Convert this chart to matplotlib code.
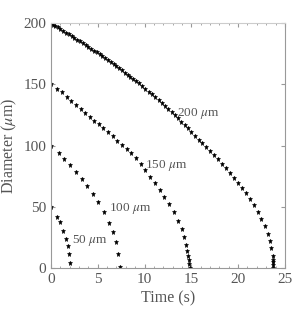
import matplotlib
matplotlib.use("Agg")
import matplotlib.pyplot as plt
from matplotlib.ticker import MultipleLocator

# droplet diameter (um) vs time (s)
t200 = [0, 0.2, 0.45, 0.7, 1.0, 1.3, 1.6, 1.9, 2.2, 2.5, 2.8, 3.1, 3.4, 3.7,
        4.0, 4.3, 4.6, 4.9, 5.2, 5.5, 5.8, 6.1, 6.4, 6.7, 7.0, 7.3, 7.6, 7.9,
        8.2, 8.5, 8.8, 9.1, 9.4, 9.75, 10.1, 10.45, 10.8, 11.15, 11.5, 11.85,
        12.2, 12.55, 12.9, 13.25, 13.6, 13.95, 14.3, 14.65, 15.0, 15.4, 15.8,
        16.19, 16.62, 17.04, 17.47, 17.85, 18.28, 18.71, 19.14, 19.53, 19.96,
        20.38, 20.81, 21.24, 21.66, 22.09, 22.49, 22.84, 23.16, 23.37, 23.55,
        23.69, 23.72, 23.72, 23.72, 23.77]
d200 = [200, 198.8, 197.6, 196.4, 195.0, 193.6, 192.2, 190.8, 189.4, 188.0,
        186.5, 185.0, 183.5, 182.0, 180.5, 179.0, 177.5, 176.0, 174.4, 172.8,
        171.2, 169.6, 168.0, 166.4, 164.7, 163.0, 161.3, 159.6, 157.9, 156.1,
        154.3, 152.5, 150.7, 148.5, 146.3, 144.1, 141.8, 139.5, 137.1, 134.7,
        132.3, 129.8, 127.3, 124.7, 122.1, 119.4, 116.7, 113.9, 111.1, 107.9,
        104.9, 102.0, 98.8, 95.8, 92.5, 89.0, 85.1, 81.6, 77.6, 73.7, 69.6,
        65.5, 61.2, 56.3, 51.1, 46.0, 40.0, 34.0, 27.8, 21.7, 16.0, 9.5, 6.8,
        4.6, 2.4, 0.2]

t150 = [0, 0.6, 1.15, 1.68, 2.17, 2.67, 3.17, 3.66, 4.13, 4.62, 5.12, 5.58,
        6.08, 6.58, 7.08, 7.58, 8.08, 8.57, 9.07, 9.57, 10.07, 10.57, 11.1,
        11.6, 12.09, 12.59, 13.1, 13.55, 13.98, 14.27, 14.48, 14.59, 14.65,
        14.73, 14.76, 14.83]
d150 = [150, 146.5, 143.3, 140.0, 136.6, 133.3, 130.1, 126.8, 123.6, 120.4,
        117.2, 114.0, 110.8, 107.4, 104.0, 100.6, 97.2, 93.6, 89.8, 85.2, 80.0,
        74.5, 69.4, 63.7, 58.0, 52.2, 45.4, 38.6, 31.8, 25.0, 18.4, 13.6, 10.0,
        6.8, 3.3, 0.2]

t100 = [0, 0.82, 1.44, 2.05, 2.67, 3.27, 3.88, 4.45, 5.03, 5.62, 6.19, 6.62,
        6.94, 7.16, 7.42]
d100 = [100, 93.5, 88.6, 83.7, 78.0, 72.3, 66.6, 60.7, 54.0, 45.5, 36.5, 29.1,
        20.8, 11.2, 0.7]

t50 = [0, 0.62, 0.93, 1.31, 1.6, 1.82, 1.94, 2.06]
d50 = [50, 42.0, 37.2, 30.2, 23.5, 17.6, 11.4, 3.7]

labels = [r"50 $\mu$m", r"100 $\mu$m", r"150 $\mu$m", r"200 $\mu$m"]
label_x = [2.25, 6.25, 10.05, 13.5]
label_y = [22.5, 48.5, 83.5, 126.0]

plt.rcParams["font.family"] = "Liberation Serif"
plt.rcParams["mathtext.fontset"] = "stix"

text_color = "#555555"
axis_color = "#999999"

fig = plt.figure(figsize=(3.07, 3.16), dpi=100)
ax = fig.add_axes([0.166, 0.152, 0.762, 0.775])

for t, d in [(t200, d200), (t150, d150), (t100, d100), (t50, d50)]:
    ax.plot(t, d, linestyle="none", marker="*", markersize=3.6,
            color="black", markeredgewidth=0.4)

for lab, x, y in zip(labels, label_x, label_y):
    ax.text(x, y, lab, fontsize=9.5, color=text_color, va="center", ha="left")

ax.set_xlim(0, 25)
ax.set_ylim(0, 200)
ax.xaxis.set_major_locator(MultipleLocator(5))
ax.xaxis.set_minor_locator(MultipleLocator(1))
ax.yaxis.set_major_locator(MultipleLocator(50))

ax.tick_params(which="both", direction="in", top=True, right=True,
               color=axis_color, labelcolor=text_color, labelsize=11)
ax.tick_params(which="major", length=3)
ax.tick_params(which="minor", length=1.5)
for side in ["left", "bottom", "right"]:
    ax.spines[side].set_color(axis_color)
    ax.spines[side].set_linewidth(0.8)
ax.spines["top"].set_color("#cccccc")
ax.spines["top"].set_linestyle((0, (1, 1)))

ax.set_xlabel("Time (s)", fontsize=11.5, color=text_color, labelpad=3)
ax.set_ylabel(r"Diameter ($\mu$m)", fontsize=11.5, color=text_color, labelpad=3)

fig.savefig("out.png", dpi=100)
